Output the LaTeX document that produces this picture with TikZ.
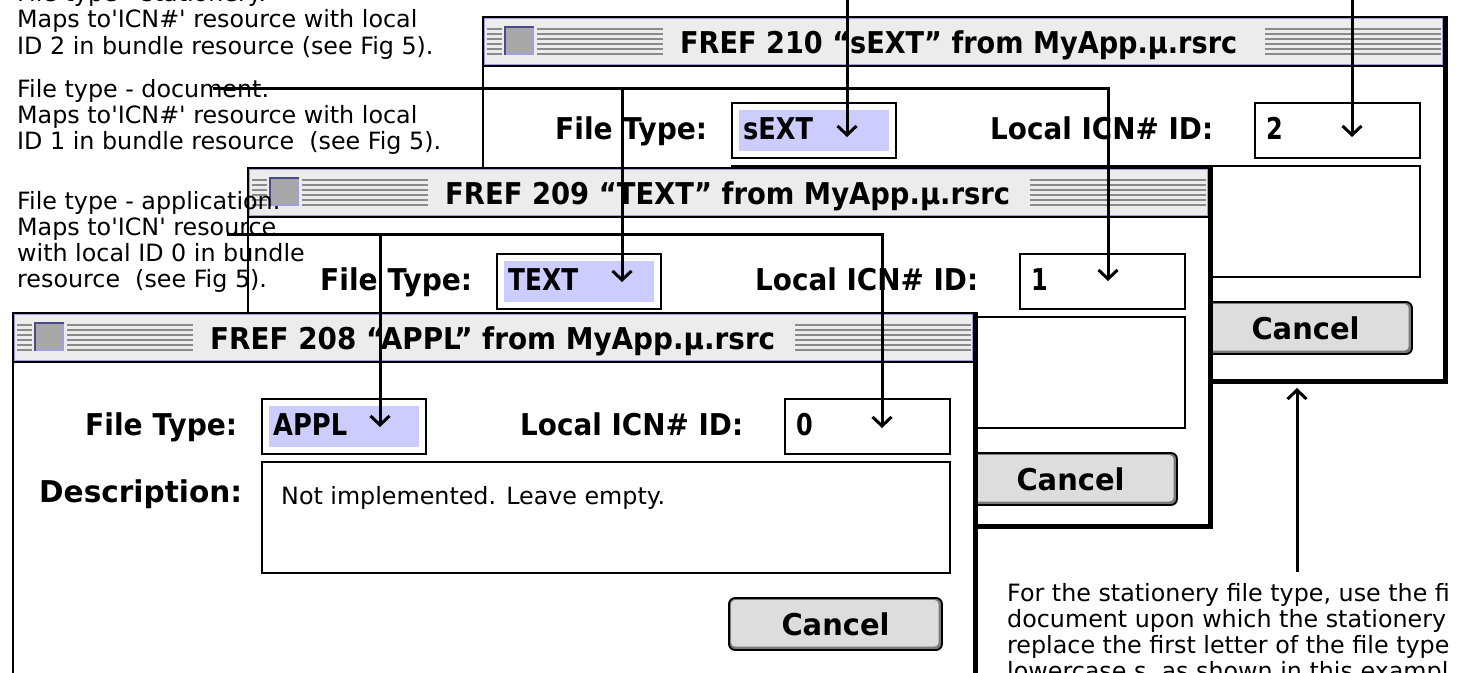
\documentclass[tikz,border=0pt]{standalone}
\usepackage{fontspec}
\setmainfont{DejaVu Sans}[Ligatures=TeXOff]
\usepackage{graphicx}
\usetikzlibrary{arrows.meta}

\definecolor{tbar}{HTML}{ECECEC}
\definecolor{stripe}{HTML}{8A8A8A}
\definecolor{lav}{HTML}{CCCCFF}
\definecolor{lavedge}{HTML}{A0A0DC}
\definecolor{closefill}{HTML}{A8A8A8}
\definecolor{closedark}{HTML}{4A4A8C}
\definecolor{btnfill}{HTML}{DDDDDD}
\definecolor{btnshade}{HTML}{7A7A7A}

% stretch a piece of text to a given width, keeping its height
\newcommand\fitw[2]{\resizebox{#1pt}{\height}{#2}}

\tikzset{
  uitext/.style={inner sep=0pt, font=\fontsize{30}{30}\selectfont\bfseries},
  notetext/.style={inner sep=0pt, anchor=base west, font=\fontsize{23.8}{26.3}\selectfont},
  fieldbox/.style={draw=black, line width=1.8pt, fill=white, inner sep=0pt},
  conn/.style={draw=black, line width=3pt, line join=miter,
    -{Straight Barb[length=9pt,width=19pt]}},
}

% one FREF editor window, drawn in window-relative pixels
% #1 name, #2 height, #3 title, #4 title width, #5 type, #6 type width, #7 id
\newcommand\macdialog[7]{%
  \path[fill=black] (0,0) rectangle (966,#2);
  \path[fill=white] (2,2) rectangle (961,{#2-5});
  % title bar
  \path[fill=tbar] (2,2) rectangle (961,49);
  \draw[lavedge, line width=1pt] (2.5,2.5) rectangle (960.5,48.5);
  \path[fill=black] (2,49) rectangle (961,51);
  \foreach \s in {13,18,23,28,33,38}{
    \draw[stripe, line width=1.6pt] (5,\s) -- (20,\s) (55,\s) -- (181,\s) (783,\s) -- (959,\s);
  }
  \path[fill=closefill] (23,11) rectangle (51,38);
  \draw[lavedge, line width=1.5pt] (51,11) -- (51,38) -- (23,38);
  \draw[closedark, line width=2pt] (23,39) -- (23,11) -- (52,11);
  \node[uitext, anchor=base west] (#1-title) at (198,37) {\fitw{#4}{#3}};
  % file type row
  \node[uitext, anchor=base west] (#1-typelabel) at (73,123) {\fitw{152}{File Type:}};
  \node[fieldbox, minimum width=164pt, minimum height=55pt] (#1-typebox) at (332,114.5) {};
  \path[fill=lav] (257,94) rectangle (407,135);
  \node[uitext, anchor=base west] (#1-type) at (261,123) {\fitw{#6}{#5}};
  \node[uitext, anchor=base west] (#1-idlabel) at (508,123) {\fitw{223}{Local ICN\# ID:}};
  \node[fieldbox, minimum width=165pt, minimum height=55pt] (#1-idbox) at (855.5,114.5) {};
  \node[uitext, anchor=base west] (#1-id) at (784,123) {\scalebox{0.8}[1]{#7}};
  % description field
  \node[fieldbox, minimum width=688pt, minimum height=111pt] (#1-descbox) at (594,205.5) {};
  % cancel button
  \path[fill=btnshade, rounded corners=6pt] (717,286) rectangle (930,338);
  \path[fill=btnfill, rounded corners=4pt] (719,288) rectangle (926.5,334.5);
  \node[uitext, draw=black, line width=1.8pt, rounded corners=6pt,
        minimum width=213pt, minimum height=52pt] (#1-cancel) at (823.5,312) {\fitw{108}{Cancel}};
}

\begin{document}
\begin{tikzpicture}[x=1pt, y=-1pt]
\useasboundingbox (0,0) rectangle (1458,672);
\clip (0,0) rectangle (1458,672);
\fill[white] (0,0) rectangle (1458,672);

% the three stacked windows, back to front
\begin{scope}[shift={(482,16)}]
  \macdialog{d210}{368}{FREF 210 “sEXT” from MyApp.µ.rsrc}{557}{sEXT}{70}{2}
\end{scope}
\begin{scope}[shift={(247,167)}]
  \macdialog{d209}{362}{FREF 209 “TEXT” from MyApp.µ.rsrc}{565}{TEXT}{70}{1}
\end{scope}
\begin{scope}[shift={(12,312)}]
  \macdialog{d208}{372}{FREF 208 “APPL” from MyApp.µ.rsrc}{565}{APPL}{74}{0}
  \node[uitext, anchor=base west] (d208-desclabel) at (27,190) {\fitw{203}{Description:}};
  \node[notetext] (d208-desc) at (269,192) {Not implemented. Leave empty.};
\end{scope}

% notes on the left
\node[notetext] (note-st) at (17,1.5) {\begin{tabular}[t]{@{}l@{}}
  File type - stationery.\\
  Maps to'ICN\#' resource with local\\
  ID 2 in bundle resource (see Fig 5).\end{tabular}};
\node[notetext] (note-doc) at (17,97) {\begin{tabular}[t]{@{}l@{}}
  File type - document.\\
  Maps to'ICN\#' resource with local\\
  ID 1 in bundle resource~ (see Fig 5).\end{tabular}};
\node[notetext] (note-app) at (17,209) {\begin{tabular}[t]{@{}l@{}}
  File type - application.\\
  Maps to'ICN' resource\\
  with local ID 0 in bundle\\
  resource~ (see Fig 5).\end{tabular}};

% note under the windows
\node[notetext] (note-sta) at (1007,601) {\begin{tabular}[t]{@{}l@{}}
  For the stationery file type, use the fi\\
  document upon which the stationery\\
  replace the first letter of the file type\\
  lowercase s, as shown in this exampl\end{tabular}};

% connector end points
\coordinate (st-type-top) at (847,-12);
\coordinate (st-id-top) at (1352,-12);
\coordinate (st-type-tip) at (847,137);
\coordinate (st-id-tip) at (1352,137);
\coordinate (doc-start) at (213,88);
\coordinate (doc-branch) at (622,88);
\coordinate (doc-corner) at (1108,88);
\coordinate (doc-type-tip) at (622,282);
\coordinate (doc-id-tip) at (1108,281);
\coordinate (app-start) at (227,234);
\coordinate (app-branch) at (380,234);
\coordinate (app-corner) at (882,234);
\coordinate (app-type-tip) at (380,427);
\coordinate (app-id-tip) at (882,428);
\coordinate (sta-tail) at (1297,572);
\coordinate (sta-tip) at (1297,388);

% connectors
\draw[conn] (st-type-top) -- (st-type-tip);
\draw[conn] (st-id-top) -- (st-id-tip);
\draw[conn] (doc-start) -- (doc-corner) -- (doc-id-tip);
\draw[conn] (doc-branch) -- (doc-type-tip);
\draw[conn] (app-start) -- (app-corner) -- (app-id-tip);
\draw[conn] (app-branch) -- (app-type-tip);
\draw[conn] (sta-tail) -- (sta-tip);
\end{tikzpicture}
\end{document}
